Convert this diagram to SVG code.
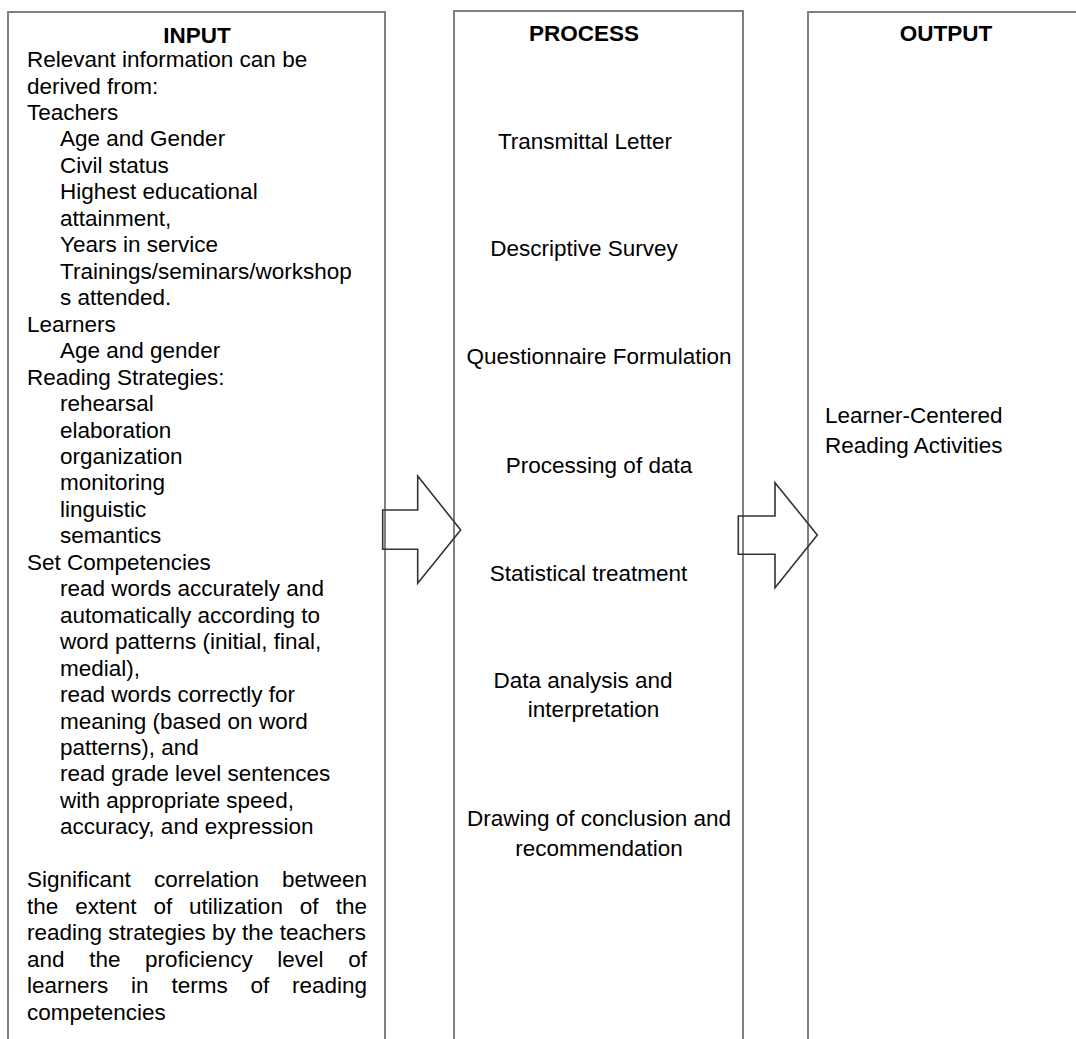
<svg xmlns="http://www.w3.org/2000/svg" width="1076" height="1039" viewBox="0 0 1076 1039">
<style>
.box{fill:#fff;stroke:#808080;stroke-width:2}
.t{font-family:"Liberation Sans",Arial,sans-serif;font-size:22.5px;fill:#000}
.h{font-family:"Liberation Sans",Arial,sans-serif;font-size:22.5px;font-weight:bold;fill:#000}
.c{text-anchor:middle}
.arrow{fill:none;stroke:#333;stroke-width:1.6;stroke-linejoin:miter}
</style>
<rect x="0" y="0" width="1076" height="1039" fill="#fff"/>
<g id="input">
<rect class="box" x="8" y="12" width="377" height="1050"/>
<text class="h c" x="197" y="43">INPUT</text>
<text class="t" x="27" y="67">Relevant information can be</text>
<text class="t" x="27" y="93.5">derived from:</text>
<text class="t" x="27" y="120">Teachers</text>
<text class="t" x="60" y="146.4">Age and Gender</text>
<text class="t" x="60" y="172.9">Civil status</text>
<text class="t" x="60" y="199.3">Highest educational</text>
<text class="t" x="60" y="225.8">attainment,</text>
<text class="t" x="60" y="252.3">Years in service</text>
<text class="t" x="60" y="278.7">Trainings/seminars/workshop</text>
<text class="t" x="60" y="305.2">s attended.</text>
<text class="t" x="27" y="331.6">Learners</text>
<text class="t" x="60" y="358.1">Age and gender</text>
<text class="t" x="27" y="384.5">Reading Strategies:</text>
<text class="t" x="60" y="411">rehearsal</text>
<text class="t" x="60" y="437.5">elaboration</text>
<text class="t" x="60" y="463.9">organization</text>
<text class="t" x="60" y="490.4">monitoring</text>
<text class="t" x="60" y="516.8">linguistic</text>
<text class="t" x="60" y="543.3">semantics</text>
<text class="t" x="27" y="569.7">Set Competencies</text>
<text class="t" x="60" y="596.2">read words accurately and</text>
<text class="t" x="60" y="622.7">automatically according to</text>
<text class="t" x="60" y="649.1">word patterns (initial, final,</text>
<text class="t" x="60" y="675.6">medial),</text>
<text class="t" x="60" y="702">read words correctly for</text>
<text class="t" x="60" y="728.5">meaning (based on word</text>
<text class="t" x="60" y="754.9">patterns), and</text>
<text class="t" x="60" y="781.4">read grade level sentences</text>
<text class="t" x="60" y="807.9">with appropriate speed,</text>
<text class="t" x="60" y="834.3">accuracy, and expression</text>
<text class="t" y="887.2"><tspan x="27">Significant</tspan><tspan x="153.9">correlation</tspan><tspan x="367" text-anchor="end">between</tspan></text>
<text class="t" y="913.7"><tspan x="27">the</tspan><tspan x="75.2">extent</tspan><tspan x="153.4">of</tspan><tspan x="189.1">utilization</tspan><tspan x="299.8">of</tspan><tspan x="367" text-anchor="end">the</tspan></text>
<text class="t" x="27" y="940.1">reading strategies by the teachers</text>
<text class="t" y="966.6"><tspan x="27">and</tspan><tspan x="89.2">the</tspan><tspan x="145.1">proficiency</tspan><tspan x="277.3">level</tspan><tspan x="367" text-anchor="end">of</tspan></text>
<text class="t" y="993"><tspan x="27">learners</tspan><tspan x="131.1">in</tspan><tspan x="171.4">terms</tspan><tspan x="250.4">of</tspan><tspan x="367" text-anchor="end">reading</tspan></text>
<text class="t" x="27" y="1019.5">competencies</text>
</g>
<g id="process">
<rect class="box" x="454" y="11" width="289" height="1050"/>
<text class="h c" x="584" y="41">PROCESS</text>
<text class="t c" x="585" y="149">Transmittal Letter</text>
<text class="t c" x="584" y="256">Descriptive Survey</text>
<text class="t c" x="599" y="364">Questionnaire Formulation</text>
<text class="t c" x="599" y="472.5">Processing of data</text>
<text class="t c" x="588.5" y="580.5">Statistical treatment</text>
<text class="t c" x="583" y="688">Data analysis and</text>
<text class="t c" x="593.5" y="716.5">interpretation</text>
<text class="t c" x="599" y="826">Drawing of conclusion and</text>
<text class="t c" x="599" y="856">recommendation</text>
</g>
<g id="output">
<rect class="box" x="808" y="12" width="300" height="1050"/>
<text class="h c" x="946" y="41">OUTPUT</text>
<text class="t" x="825" y="423">Learner-Centered</text>
<text class="t" x="825" y="453">Reading Activities</text>
</g>
<g id="connectors">
<polygon class="arrow" points="382.7,510 417.7,510 417.7,476 460.7,530 417.7,583.3 417.7,549.3 382.7,549.3"/>
<polygon class="arrow" points="738.3,516 775,516 775,482.7 817.3,535 775,587.7 775,554.3 738.3,554.3"/>
</g>
</svg>
